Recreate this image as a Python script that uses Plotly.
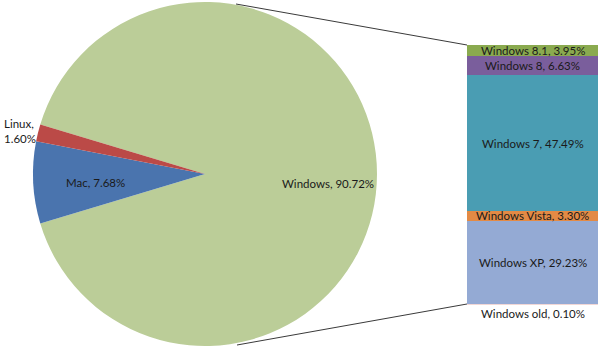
import plotly.graph_objects as go

# ---- data ----
pie_labels = ["Windows", "Mac", "Linux"]
pie_values = [90.72, 7.68, 1.60]
pie_colors = ["#BBCD98", "#4A74AE", "#BB4A47"]

bar_labels = ["Windows old", "Windows XP", "Windows Vista", "Windows 7", "Windows 8", "Windows 8.1"]
bar_values = [0.10, 29.23, 3.30, 47.49, 6.63, 3.95]
bar_colors = ["#E3B0AE", "#94AAD4", "#E38A45", "#4A9DB3", "#7A5E9C", "#8AAA4F"]

W, H = 600, 351
def px(x): return x / W
def py(y): return 1 - y / H

FONT = "Lato"
TXT = "#1a1a1a"

fig = go.Figure()

total = sum(pie_values)
rot = 90 - pie_values[0] / total * 180.0
fig.add_trace(go.Pie(
    labels=pie_labels, values=pie_values, sort=False, direction="clockwise",
    rotation=rot, marker=dict(colors=pie_colors, line=dict(width=0)),
    textinfo="none", hoverinfo="label+percent", showlegend=False,
    domain=dict(x=[px(33), px(377)], y=[py(346), py(2)]),
))

for lab, val, col in zip(bar_labels, bar_values, bar_colors):
    fig.add_trace(go.Bar(
        x=[0], y=[val], name=lab, marker=dict(color=col, line=dict(width=0)),
        width=1, showlegend=False, xaxis="x", yaxis="y",
    ))

bar_total = sum(bar_values)
fig.update_layout(
    width=W, height=H, margin=dict(l=0, r=0, t=0, b=0),
    paper_bgcolor="white", plot_bgcolor="rgba(0,0,0,0)",
    barmode="stack", bargap=0,
    xaxis=dict(domain=[px(467), px(598)], range=[-0.5, 0.5], visible=False, fixedrange=True),
    yaxis=dict(domain=[py(304.5), py(45)], range=[0, bar_total], visible=False, fixedrange=True),
    font=dict(family=FONT, size=11.5, color=TXT),
)

annotations = []
# pie labels
annotations.append(dict(x=px(328), y=py(183), xref="paper", yref="paper", showarrow=False,
                        text=f"{pie_labels[0]}, {pie_values[0]:.2f}%"))
annotations.append(dict(x=px(64), y=py(182), xref="paper", yref="paper", showarrow=False,
                        text=f"{pie_labels[1]}, {pie_values[1]:.2f}%"))
annotations.append(dict(x=px(2), y=py(131), xref="paper", yref="paper", showarrow=False,
                        xanchor="left", align="left",
                        text=f"{pie_labels[2]},<br>{pie_values[2]:.2f}%"))
# bar labels
cum = 0
for i, (lab, val) in enumerate(zip(bar_labels, bar_values)):
    mid = cum + val / 2
    cum += val
    if i == 0:
        annotations.append(dict(x=0, y=0, xref="x", yref="y", yshift=-9, showarrow=False,
                                text=f"{lab}, {val:.2f}%"))
    else:
        annotations.append(dict(x=0, y=mid, xref="x", yref="y", showarrow=False,
                                text=f"{lab}, {val:.2f}%"))
fig.update_layout(annotations=annotations)

# connector lines
fig.add_shape(type="line", xref="paper", yref="paper", x0=px(236), y0=py(4), x1=px(467), y1=py(45),
              line=dict(color="#3a3a3a", width=1))
fig.add_shape(type="line", xref="paper", yref="paper", x0=px(237), y0=py(345), x1=px(467), y1=py(304),
              line=dict(color="#3a3a3a", width=1))

fig.write_html("out.html")
